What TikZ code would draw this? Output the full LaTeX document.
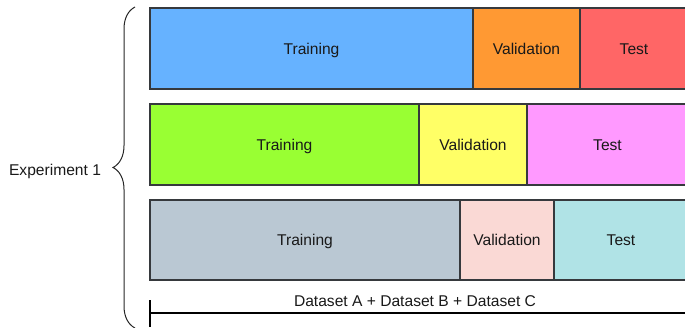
\documentclass[tikz,border=0pt]{standalone}
\usepackage{fontspec}
\setmainfont{Liberation Sans}
\usetikzlibrary{decorations.pathreplacing}
\definecolor{trA}{HTML}{66B2FF}
\definecolor{vaA}{HTML}{FF9933}
\definecolor{teA}{HTML}{FF6666}
\definecolor{trB}{HTML}{99FF33}
\definecolor{vaB}{HTML}{FFFF66}
\definecolor{teB}{HTML}{FF99FF}
\definecolor{trC}{HTML}{BAC8D3}
\definecolor{vaC}{HTML}{FAD9D5}
\definecolor{teC}{HTML}{B0E3E6}
\definecolor{edge}{HTML}{36393D}
\begin{document}
\begin{tikzpicture}[x=1pt,y=-1pt,
  cell/.style={draw=edge, line width=1.2pt, anchor=north west, minimum height=81pt, inner sep=0pt, outer sep=0pt, text height=11.2pt, text depth=0pt, font=\fontsize{15.6}{18}\selectfont, text=black!90},
  lbl/.style={font=\fontsize{15.6}{18}\selectfont, text=black!90, inner sep=0pt, text height=11.2pt, text depth=0pt}]
\clip (0,0) rectangle (685,327);
\useasboundingbox (0,0) rectangle (685,327);
% row 1
\node[cell, fill=trA, minimum width=323pt] (t1) at (150,8) {Training};
\node[cell, fill=vaA, minimum width=107pt] (v1) at (473,8) {Validation};
\node[cell, fill=teA, minimum width=108pt] (s1) at (580,8) {Test};
% row 2
\node[cell, fill=trB, minimum width=269pt] (t2) at (150,104) {Training};
\node[cell, fill=vaB, minimum width=108pt] (v2) at (419,104) {Validation};
\node[cell, fill=teB, minimum width=161pt] (s2) at (527,104) {Test};
% row 3
\node[cell, fill=trC, minimum width=310pt, minimum height=80pt] (t3) at (150,200) {Training};
\node[cell, fill=vaC, minimum width=94pt, minimum height=80pt] (v3) at (460,200) {Validation};
\node[cell, fill=teC, minimum width=134pt, minimum height=80pt] (s3) at (554,200) {Test};
% brace and label
\coordinate (bb) at (135,328);
\coordinate (bt) at (135,7);
\draw[line width=1pt, black!85, decorate, decoration={brace, amplitude=22pt}] (bb) -- (bt);
\node[lbl] (exp) at (55,170) {Experiment 1};
% dataset line
\coordinate (ls) at (150,313);
\coordinate (le) at (688,313);
\coordinate (tt) at (150,300);
\coordinate (tb) at (150,327);
\draw[line width=2.2pt, black] (ls) -- (le);
\draw[line width=2.2pt, black] (tt) -- (tb);
\node[lbl] (ds) at (415,301) {Dataset A + Dataset B + Dataset C};
\end{tikzpicture}
\end{document}
